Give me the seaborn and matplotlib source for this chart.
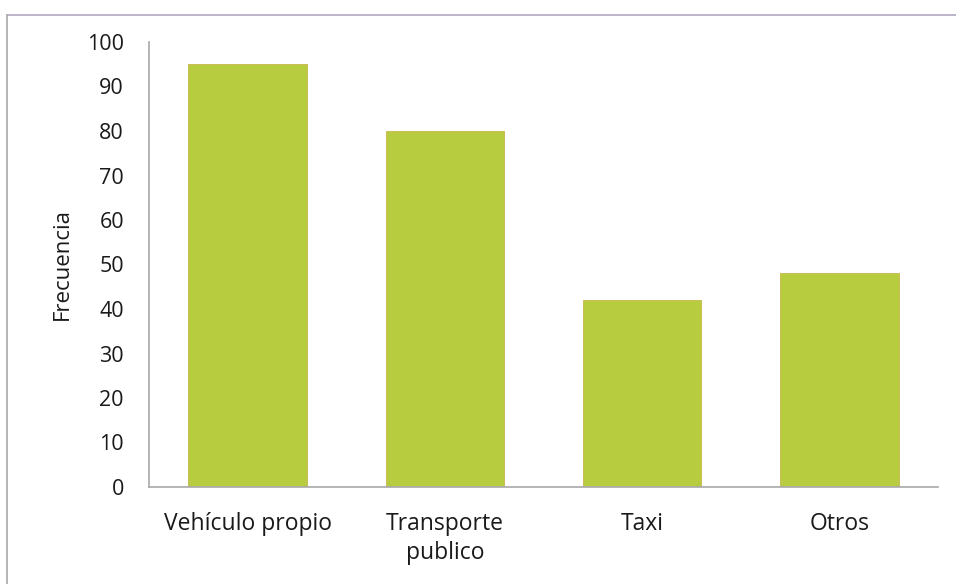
import matplotlib
matplotlib.use("Agg")
import matplotlib.pyplot as plt
import seaborn as sns
import pandas as pd
from matplotlib.lines import Line2D

categories = ["Vehículo propio", "Transporte\npublico", "Taxi", "Otros"]
frecuencia = [95, 80, 42, 48]
y_ticks = list(range(0, 101, 10))

sns.set_theme(style="white")
plt.rcParams['font.family'] = ['Open Sans', 'DejaVu Sans']

df = pd.DataFrame({"cat": categories, "freq": frecuencia})

fig = plt.figure(figsize=(9.56, 5.84), dpi=100)
ax = fig.add_axes([149/956, 1-487/584, (938-149)/956, (487-42)/584])
sns.barplot(data=df, x="cat", y="freq", color="#b7cc3e", saturation=1,
            width=0.6, ax=ax, edgecolor="#c9b54a", linewidth=0.6)

ax.set_ylim(0, 100)
ax.set_yticks(y_ticks)
ax.set_yticklabels([str(v) for v in y_ticks], fontsize=15.5, color="#1a1a1a")
ax.set_xticks(range(len(categories)))
ax.set_xticklabels(categories, fontsize=16.5, color="#1a1a1a", linespacing=1.3)
ax.tick_params(axis="x", length=0, pad=18)
ax.tick_params(axis="y", length=0, pad=18)
ax.set_xlabel("")
ax.set_ylabel("Frecuencia", fontsize=16, color="#1a1a1a", labelpad=10)
for s in ["top", "right"]:
    ax.spines[s].set_visible(False)
for s in ["left", "bottom"]:
    ax.spines[s].set_color("#a8a8a8")
    ax.spines[s].set_linewidth(1.2)

# scanned frame (top and left edges)
fig.add_artist(Line2D([7/956, 1], [1-15/584, 1-15/584], transform=fig.transFigure,
                      color="#b0a8c0", linewidth=1.2))
fig.add_artist(Line2D([7/956, 7/956], [0, 1-15/584], transform=fig.transFigure,
                      color="#a8a8a8", linewidth=1.2))

fig.savefig("out.png", dpi=100)
